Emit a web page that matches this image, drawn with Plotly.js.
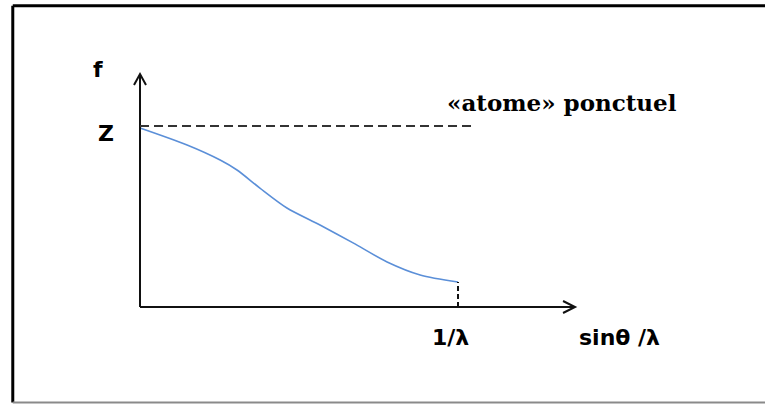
<!DOCTYPE html>
<html>
<head>
<meta charset="utf-8">
<script src="https://cdn.plot.ly/plotly-3.0.1.min.js"></script>
<style>html,body{margin:0;padding:0;background:#fff;}#chart{width:765px;height:404px;}</style>
</head>
<body>
<div id="chart"></div>
<script>
// Data (x in units of 1/λ, f in units of Z)
var xVals = [0, 0.148, 0.252, 0.305, 0.377, 0.462, 0.566, 0.670, 0.777, 0.881, 1.0];
var fVals = [0.989, 0.895, 0.812, 0.757, 0.657, 0.547, 0.453, 0.354, 0.249, 0.177, 0.138];
var zLevel = 1;          // point atom level f = Z
var xEnd = 1;            // 1/λ
var dashEnd = 1.054;     // end of the dashed Z line
var xAxisTip = 1.368;
var yAxisTip = 1.287;
var labels = {f: "f", z: "Z", xEnd: "1/λ", xTitle: "sinθ /λ", point: "«atome» ponctuel"};

var sansFont = {family: "DejaVu Sans, Verdana, sans-serif", size: 22, color: "#000", weight: "bold"};

var trace = {
  x: xVals, y: fVals, mode: "lines", type: "scatter",
  line: {color: "#5b8fd8", width: 1.6, shape: "spline", smoothing: 0.8},
  hoverinfo: "skip"
};

var shapes = [
  // frame
  {type: "line", xref: "paper", yref: "paper", x0: 0.0167, x1: 0.0167, y0: 0.004, y1: 0.986, line: {color: "#000", width: 3}},
  {type: "line", xref: "paper", yref: "paper", x0: 0.0167, x1: 1, y0: 0.986, y1: 0.986, line: {color: "#000", width: 3}},
  {type: "line", xref: "paper", yref: "paper", x0: 0.0167, x1: 1, y0: 0.004, y1: 0.004, line: {color: "#8a8a8a", width: 2}},
  // axes
  {type: "line", x0: 0, x1: xAxisTip, y0: 0, y1: 0, line: {color: "#111", width: 2}},
  {type: "line", x0: 0, x1: 0, y0: 0, y1: yAxisTip, line: {color: "#111", width: 2}},
  // arrow heads
  {type: "path", xsizemode: "pixel", ysizemode: "pixel", xanchor: xAxisTip, yanchor: 0,
   path: "M -12,6 L 0,0 L -12,-6", line: {color: "#111", width: 2}},
  {type: "path", xsizemode: "pixel", ysizemode: "pixel", xanchor: 0, yanchor: yAxisTip,
   path: "M -6,-11 L 0,0 L 6,-11", line: {color: "#111", width: 2}},
  // Z dashed line
  {type: "line", x0: 0, x1: dashEnd, y0: zLevel, y1: zLevel, line: {color: "#333", width: 2, dash: "9px,5px"}},
  // vertical dashed at 1/λ
  {type: "line", x0: xEnd, x1: xEnd, y0: 0, y1: fVals[fVals.length - 1], line: {color: "#111", width: 2, dash: "5px,3px"}}
];

var annotations = [
  {x: -0.132, y: 1.31, text: labels.f, showarrow: false, font: {family: "DejaVu Sans, sans-serif", size: 22, color: "#000", weight: "bold"}, xanchor: "center", yanchor: "middle"},
  {x: -0.107, y: 0.96, text: labels.z, showarrow: false, font: sansFont, xanchor: "center", yanchor: "middle"},
  {x: 0.975, y: -0.166, text: labels.xEnd, showarrow: false, font: sansFont, xanchor: "center", yanchor: "middle"},
  {x: 1.509, y: -0.166, text: labels.xTitle, showarrow: false, font: sansFont, xanchor: "center", yanchor: "middle"},
  {x: 1.327, y: 1.13, text: labels.point, showarrow: false, font: {family: "DejaVu Serif, serif", size: 23, color: "#000", weight: "bold"}, xanchor: "center", yanchor: "middle"}
];

var layout = {
  width: 765, height: 404,
  margin: {l: 0, r: 0, t: 0, b: 0},
  paper_bgcolor: "#fff", plot_bgcolor: "#fff",
  showlegend: false,
  xaxis: {range: [-0.4403, 1.9654], visible: false, fixedrange: true},
  yaxis: {range: [-0.5359, 1.6961], visible: false, fixedrange: true},
  shapes: shapes,
  annotations: annotations
};

Plotly.newPlot("chart", [trace], layout, {staticPlot: true, displayModeBar: false});
</script>
</body>
</html>
